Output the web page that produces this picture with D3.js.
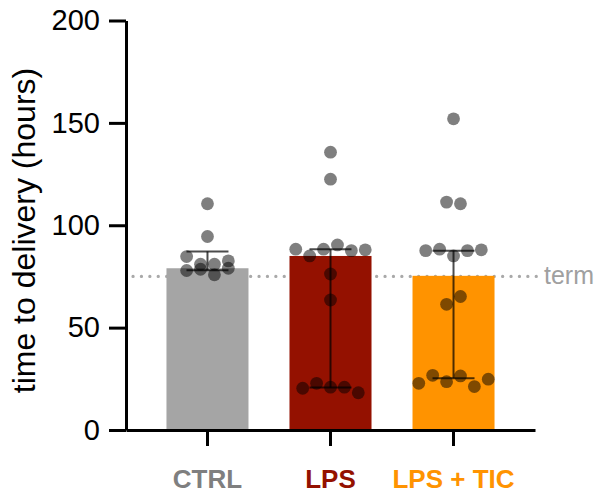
<!DOCTYPE html>
<html>
<head>
<meta charset="utf-8">
<script src="https://cdn.jsdelivr.net/npm/d3@7"></script>
<style>
  html, body { margin: 0; padding: 0; background: #fff; }
  svg { display: block; }
  text { font-family: "Liberation Sans", Arial, Helvetica, sans-serif; }
</style>
</head>
<body>
<svg id="chart" width="599" height="499"></svg>
<script>
// ---- data ----
const groups = ["CTRL", "LPS", "LPS + TIC"];
const barValues = [79, 85, 75.3];        // median
const errLow = [78, 20.7, 25.3];         // lower quartile
const errHigh = [87.2, 88.3, 87.6];      // upper quartile
const ctrlPoints = [110.5, 94.5, 84.7, 81, 81, 82.6, 77.9, 78.5, 75.8, 79];
const lpsPoints = [135.7, 122.5, 88.3, 85, 88.3, 90.4, 87.6, 88, 76.2, 63.5, 20.4, 22.8, 20.9, 20.9, 18.2];
const ticPoints = [152, 111.3, 110.5, 87.6, 88.3, 85, 87.6, 88, 61.4, 65.2, 22.8, 26.7, 23.6, 26.4, 21.2, 24.8];
const yTicks = [0, 50, 100, 150, 200];
const termValue = 75;
const termLabel = "term";
const yTitle = "time to delivery (hours)";

// ---- styles ----
const barColors = ["#A5A5A5", "#941100", "#FF9300"];
const labelColors = ["#7F7F7F", "#941100", "#FF9300"];
const font = "'Liberation Sans', Arial, Helvetica, sans-serif";

const svg = d3.select("#chart");

const y = d3.scaleLinear().domain([0, 200]).range([430, 20.5]);
const x = d3.scaleBand().domain(groups).range([126, 535])
  .paddingInner(1 / 3).paddingOuter(0.329);

// term dotted line (behind bars)
svg.append("line")
  .attr("x1", 133).attr("x2", 538)
  .attr("y1", y(termValue)).attr("y2", y(termValue))
  .attr("stroke", "#A9A9A9").attr("stroke-width", 3.2)
  .attr("stroke-linecap", "round")
  .attr("stroke-dasharray", "0.1,8.3");
svg.append("text")
  .attr("x", 544).attr("y", y(termValue) + 8)
  .attr("font-size", 25).attr("fill", "#A0A0A0")
  .text(termLabel);

// bars
svg.selectAll("rect.bar").data(groups).join("rect")
  .attr("class", "bar")
  .attr("x", d => x(d)).attr("width", x.bandwidth())
  .attr("y", (d, i) => y(barValues[i]))
  .attr("height", (d, i) => y(0) - y(barValues[i]))
  .attr("fill", (d, i) => barColors[i]);

// error bars
const capHalf = 21;
const eg = svg.append("g").attr("stroke", "#000").attr("stroke-opacity", 0.7)
  .attr("stroke-width", 2).attr("fill", "none");
groups.forEach((g, i) => {
  const cx = x(g) + x.bandwidth() / 2;
  eg.append("line").attr("x1", cx).attr("x2", cx)
    .attr("y1", y(errLow[i])).attr("y2", y(errHigh[i]));
  [errLow[i], errHigh[i]].forEach(v => {
    eg.append("line").attr("x1", cx - capHalf).attr("x2", cx + capHalf)
      .attr("y1", y(v)).attr("y2", y(v));
  });
});

// points: simple binned beeswarm
const allPoints = [ctrlPoints, lpsPoints, ticPoints];
const step = 13.9, r = 6.4, binWidth = 5.6;
groups.forEach((g, gi) => {
  const cx = x(g) + x.bandwidth() / 2;
  const vals = allPoints[gi].map((v, idx) => ({ v, idx }));
  const sorted = vals.slice().sort((a, b) => b.v - a.v);
  const bins = [];
  let cur = null;
  sorted.forEach(p => {
    if (!cur || p.v < cur.start - binWidth - 1e-9) {
      cur = { start: p.v, items: [] };
      bins.push(cur);
    }
    cur.items.push(p);
  });
  const placed = [];
  bins.forEach(b => {
    const items = b.items.slice().sort((a, c) => a.idx - c.idx);
    const n = items.length;
    items.forEach((p, k) => placed.push({ v: p.v, dx: (k - (n - 1) / 2) * step }));
  });
  svg.append("g").selectAll("circle").data(placed).join("circle")
    .attr("cx", d => cx + d.dx).attr("cy", d => y(d.v)).attr("r", r)
    .attr("fill", "#000").attr("fill-opacity", 0.5);
});

// y axis
const yAxis = svg.append("g").attr("transform", "translate(126,0)")
  .call(d3.axisLeft(y).tickValues(yTicks).tickSize(17).tickSizeOuter(0).tickPadding(9));
yAxis.select(".domain").attr("stroke-width", 3).attr("stroke", "#000");
yAxis.selectAll(".tick line").attr("stroke-width", 3).attr("stroke", "#000");
yAxis.selectAll(".tick text").attr("font-size", 29).attr("font-family", font).attr("fill", "#000");

// x axis
const xAxis = svg.append("g").attr("transform", "translate(0,430)")
  .call(d3.axisBottom(x).tickSize(16).tickSizeOuter(0).tickPadding(24));
xAxis.select(".domain").attr("stroke-width", 3).attr("stroke", "#000");
xAxis.selectAll(".tick line").attr("stroke-width", 3).attr("stroke", "#000");
xAxis.selectAll(".tick text").attr("font-size", 26).attr("font-weight", "bold")
  .attr("font-family", font)
  .attr("fill", (d, i) => labelColors[i]);

// y title
svg.append("text")
  .attr("transform", "translate(35,230.5) rotate(-90)")
  .attr("text-anchor", "middle").attr("font-size", 32).attr("fill", "#000")
  .text(yTitle);
</script>
</body>
</html>
